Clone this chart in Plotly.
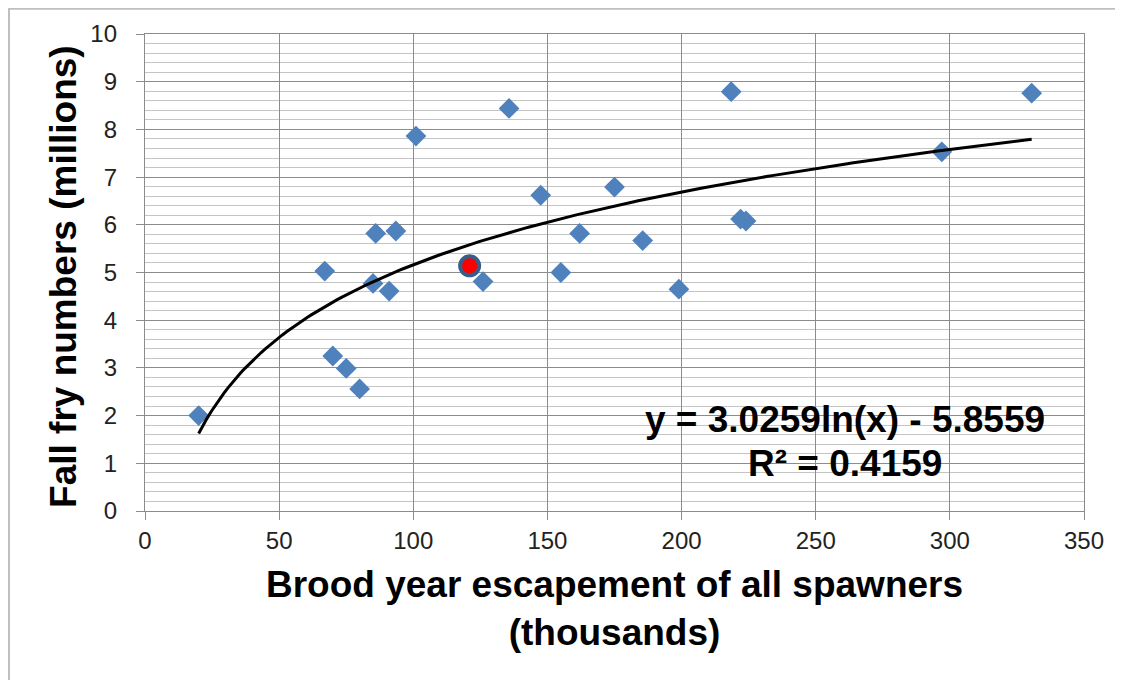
import numpy as np
import plotly.graph_objects as go

# ---- data ----
escapement = [20, 67, 70, 75, 80, 85, 86, 91, 93.5, 101, 126, 135.7, 147.5, 155,
              162, 175, 185.5, 199, 218.5, 222, 224, 297, 330.5]
fall_fry = [2.0, 5.03, 3.25, 2.99, 2.56, 4.77, 5.82, 4.61, 5.87, 7.86, 4.81, 8.44,
            6.62, 5.0, 5.82, 6.79, 5.67, 4.65, 8.79, 6.12, 6.08, 7.53, 8.76]
highlight_x = [121]
highlight_y = [5.14]
x_tick_vals = [0, 50, 100, 150, 200, 250, 300, 350]
y_tick_vals = [0, 1, 2, 3, 4, 5, 6, 7, 8, 9, 10]
equation_label = "y = 3.0259ln(x) - 5.8559"
r2_label = "R² = 0.4159"
x_title = "Brood year escapement of all spawners<br>(thousands)"
y_title = "Fall fry numbers (millions)"

# logarithmic trend line fitted to the plotted points
a, b = np.polyfit(np.log(escapement), fall_fry, 1)
trend_x = np.linspace(min(escapement), max(escapement), 200)
trend_y = a * np.log(trend_x) + b

FONT = "Liberation Sans, Arial, sans-serif"
TITLE_FONT = dict(family=FONT, size=37, color="#000", weight="bold")

fig = go.Figure()
fig.add_trace(go.Scatter(
    x=escapement, y=fall_fry, mode="markers",
    marker=dict(symbol="diamond", size=16, color="#4F81BD", line=dict(width=0)),
    showlegend=False, cliponaxis=False))
fig.add_trace(go.Scatter(
    x=trend_x, y=trend_y, mode="lines",
    line=dict(color="#000000", width=3), showlegend=False))
fig.add_trace(go.Scatter(
    x=highlight_x, y=highlight_y, mode="markers",
    marker=dict(symbol="circle", size=19, color="#FF0000",
                line=dict(color="#385D8A", width=4)),
    showlegend=False))

fig.add_annotation(x=261, y=1.91, xref="x", yref="y", text=equation_label,
                   showarrow=False, font=TITLE_FONT)
fig.add_annotation(x=261, y=1.0, xref="x", yref="y", text=r2_label,
                   showarrow=False, font=TITLE_FONT)

# y-axis title placed explicitly
fig.add_annotation(x=-0.0863, y=0.4927, xref="paper", yref="paper", text=y_title,
                   textangle=-90, xanchor="center", yanchor="middle",
                   showarrow=False, font=TITLE_FONT)

# outer chart border
fig.add_shape(type="rect", xref="paper", yref="paper",
              x0=-0.1448, x1=1.08, y0=-0.40, y1=1.053,
              line=dict(color="#BFBFBF", width=2), layer="below")

fig.update_layout(
    width=1115, height=672,
    margin=dict(l=137, r=39, t=26, b=169, autoexpand=False),
    paper_bgcolor="white", plot_bgcolor="white",
    font=dict(family=FONT, color="#222"),
    xaxis=dict(
        range=[0, 350], tickvals=x_tick_vals, showgrid=True,
        gridcolor="#8C8C8C", gridwidth=1.3, automargin=False,
        showline=True, linecolor="#8C8C8C", linewidth=1.3, mirror=True,
        ticks="outside", ticklen=8, tickcolor="#8C8C8C",
        tickfont=dict(size=24, color="#222"), zeroline=False,
        title=dict(text=x_title, font=TITLE_FONT, standoff=18),
    ),
    yaxis=dict(
        range=[0, 10], tickvals=y_tick_vals, showgrid=True,
        gridcolor="#8C8C8C", gridwidth=1.3, automargin=False,
        minor=dict(dtick=0.2, showgrid=True, gridcolor="#C4C4C4", gridwidth=1),
        showline=True, linecolor="#8C8C8C", linewidth=1.3, mirror=True,
        ticks="outside", ticklen=8, tickcolor="#8C8C8C", ticklabelstandoff=14,
        tickfont=dict(size=24, color="#222"), zeroline=False,
    ),
)

fig.write_html("out.html")
